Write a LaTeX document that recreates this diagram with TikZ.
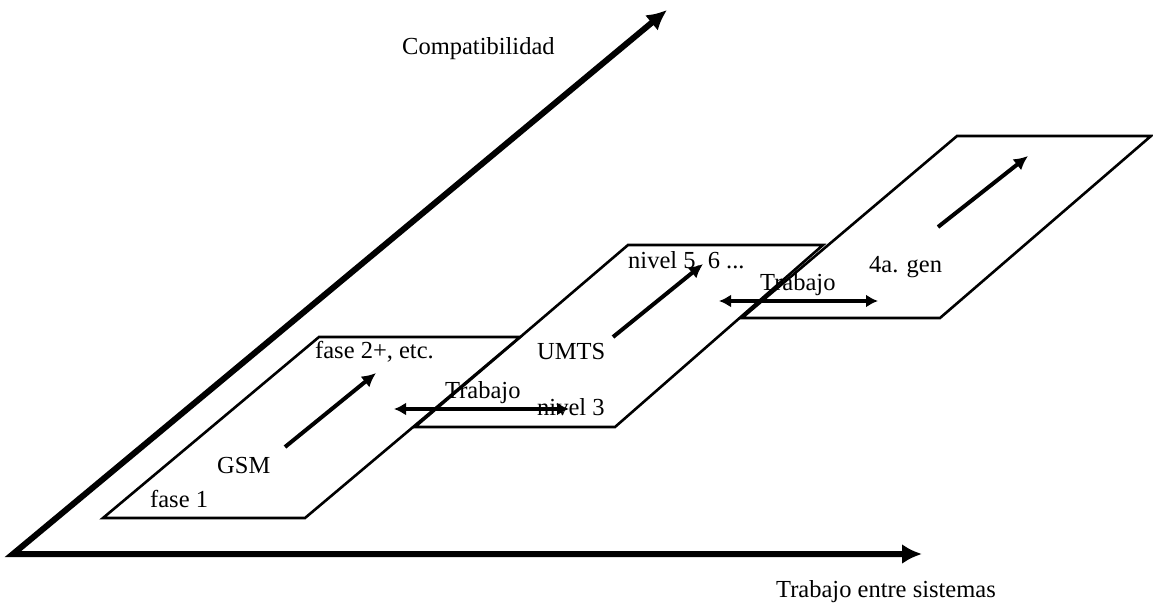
\documentclass[tikz,border=0pt]{standalone}
\usepackage{fontspec}
\setmainfont{Liberation Serif}
\usetikzlibrary{arrows.meta}
\tikzset{
  plane/.style={draw=black,line width=2.6pt,line join=miter},
  axis/.style={line width=6pt,line join=miter,{Latex[length=20pt,width=20pt]}-{Latex[length=20pt,width=20pt]}},
  evol/.style={line width=4pt,-{Latex[length=14pt,width=14pt]}},
  work/.style={line width=3.6pt,{Latex[length=12pt,width=13pt]}-{Latex[length=12pt,width=13pt]}},
  lbl/.style={anchor=base west,inner sep=0pt,font=\fontsize{24.5}{29}\selectfont}
}
\begin{document}
\begin{tikzpicture}[x=1pt,y=-1pt]
\useasboundingbox (0,0) rectangle (1153,604);
% axes
\coordinate (o) at (13,554);
\coordinate (ytip) at (667,10);
\coordinate (xtip) at (922,554);
\draw[axis] (ytip) -- (o) -- (xtip);
\node[lbl] (compat) at (402,55) {Compatibilidad};
\node[lbl] (tes) at (776,597) {Trabajo entre sistemas};
% GSM plane
\coordinate (g1) at (103,518);
\coordinate (g2) at (305,518);
\coordinate (g3) at (520,337);
\coordinate (g4) at (319,337);
\draw[plane] (g1) -- (g2) -- (g3) -- (g4) -- cycle;
% UMTS plane
\coordinate (u1) at (415,427);
\coordinate (u2) at (615,427);
\coordinate (u3) at (823,245);
\coordinate (u4) at (628,245);
\draw[plane] (u1) -- (u2) -- (u3) -- (u4) -- cycle;
% 4G plane
\coordinate (f1) at (742,318);
\coordinate (f2) at (940,318);
\coordinate (f3) at (1151,136);
\coordinate (f4) at (957,136);
\draw[plane] (f1) -- (f2) -- (f3) -- (f4) -- cycle;
% evolution arrows
\coordinate (ga) at (285,447);
\coordinate (gb) at (376,373);
\draw[evol] (ga) -- (gb);
\coordinate (ua) at (613,337);
\coordinate (ub) at (703,264);
\draw[evol] (ua) -- (ub);
\coordinate (fa) at (938,227);
\coordinate (fb) at (1028,156);
\draw[evol] (fa) -- (fb);
% interworking arrows
\coordinate (w1a) at (394,409);
\coordinate (w1b) at (569,409);
\draw[work] (w1a) -- (w1b);
\coordinate (w2a) at (719,301);
\coordinate (w2b) at (878,301);
\draw[work] (w2a) -- (w2b);
% labels
\node[lbl] (fase1) at (150,507) {fase 1};
\node[lbl] (gsm) at (217,473) {GSM};
\node[lbl] (fase2) at (315,358) {fase 2+, etc.};
\node[lbl] (trab1) at (445,398) {Trabajo};
\node[lbl] (niv3) at (537,415) {nivel 3};
\node[lbl] (umts) at (537,359) {UMTS};
\node[lbl] (niv5) at (628,268) {nivel 5, 6 ...};
\node[lbl] (trab2) at (760,290) {Trabajo};
\node[lbl] (gen4) at (869,272) {4a. gen};
\end{tikzpicture}
\end{document}
